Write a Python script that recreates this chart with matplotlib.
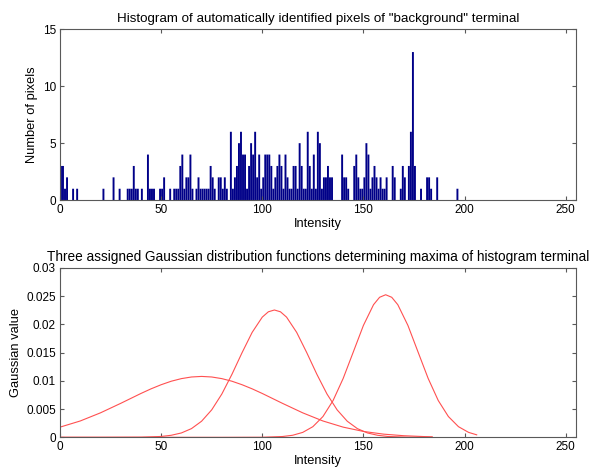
import matplotlib
matplotlib.use("Agg")
import matplotlib.pyplot as plt

plt.rcParams["font.family"] = ["Liberation Sans", "DejaVu Sans"]

# histogram: intensity bins that have pixels, and their counts
bins = [0, 1, 2, 3, 6, 8, 21, 26, 29, 33, 34, 35, 36, 37, 38, 40, 43, 44, 45, 46,
        49, 50, 51, 54, 56, 57, 58, 59, 60, 61, 62, 63, 64, 65, 67, 68, 69, 70, 71, 72,
        73, 74, 75, 76, 78, 79, 80, 81, 82, 84, 85, 86, 87, 88, 89, 90, 91, 92, 93, 94,
        95, 96, 97, 98, 99, 100, 101, 102, 103, 104, 105, 106, 107, 108, 109, 110, 111, 112, 113, 114,
        115, 116, 117, 118, 119, 120, 121, 122, 123, 124, 125, 126, 127, 128, 129, 130, 131, 132, 133, 134,
        139, 140, 141, 142, 145, 146, 147, 148, 149, 150, 151, 152, 153, 154, 155, 156, 157, 158, 159, 160,
        161, 164, 165, 168, 169, 170, 172, 173, 174, 175, 178, 181, 182, 183, 186, 196]
counts = [3, 3, 1, 2, 1, 1, 1, 2, 1, 1, 1, 1, 3, 1, 1, 1, 4, 1, 1, 1,
          1, 1, 2, 1, 1, 1, 1, 3, 4, 1, 2, 2, 4, 1, 1, 2, 1, 1, 1, 1,
          1, 3, 2, 1, 2, 2, 1, 2, 1, 6, 1, 2, 3, 5, 6, 4, 4, 1, 3, 5,
          4, 6, 2, 4, 1, 2, 4, 4, 4, 3, 1, 2, 3, 4, 3, 1, 4, 2, 1, 1,
          3, 3, 1, 5, 3, 1, 1, 6, 3, 1, 4, 1, 6, 5, 1, 2, 2, 3, 2, 2,
          4, 2, 2, 1, 3, 4, 2, 1, 1, 2, 5, 4, 1, 2, 3, 2, 1, 2, 1, 1,
          2, 3, 2, 1, 3, 2, 3, 6, 13, 3, 1, 2, 2, 1, 2, 1]

# gaussian curves, values
g1_x = [0, 10, 20, 30, 40, 45, 50, 55, 60, 65, 70, 75, 80, 85, 90, 95, 100, 110, 120, 130,
        140, 150, 160, 170, 180, 184]
g1_y = [0.00180, 0.00289, 0.00433, 0.00601, 0.00776, 0.00858, 0.00931, 0.00993, 0.01039, 0.01068,
        0.01078, 0.01068, 0.01039, 0.00993, 0.00931, 0.00858, 0.00776, 0.00601, 0.00433, 0.00289,
        0.00180, 0.00104, 0.00056, 0.00028, 0.00013, 0.00009]

g2_x = [0, 20, 40, 50, 55, 60, 65, 70, 75, 80, 85, 90, 95, 100, 103, 106, 109, 112, 117, 122,
        127, 132, 137, 142, 147, 152, 157, 162, 172, 184]
g2_y = [0, 0, 0.00002, 0.00015, 0.00036, 0.00077, 0.00154, 0.00285, 0.00486, 0.00766,
        0.01115, 0.01498, 0.01858, 0.02128, 0.02222, 0.02254, 0.02222, 0.02128, 0.01858, 0.01498,
        0.01115, 0.00766, 0.00486, 0.00285, 0.00154, 0.00077, 0.00036, 0.00015, 0.00002, 0]

g3_x = [0, 80, 100, 110, 115, 120, 125, 130, 135, 140, 145, 150, 155, 158, 161, 164, 167, 172, 177, 182,
        187, 192, 197, 202, 206]
g3_y = [0, 0, 0.000015, 0.00014, 0.00036, 0.00087, 0.00188, 0.00368, 0.00651, 0.01043,
        0.01511, 0.01981, 0.02348, 0.02479, 0.02524, 0.02479, 0.02348, 0.01981, 0.01511, 0.01043,
        0.00651, 0.00368, 0.00188, 0.00087, 0.00044]

fig = plt.figure(figsize=(5.97, 4.72), dpi=100)
ax1 = fig.add_axes([0.1005, 0.576, 0.864, 0.362])
ax2 = fig.add_axes([0.1005, 0.0735, 0.864, 0.359])

ax1.bar(bins, counts, width=0.95, align="edge", color="#000088", edgecolor="none", snap=False)
ax1.set_xlim(0, 255)
ax1.set_ylim(0, 15)
ax1.set_yticks([0, 5, 10, 15])
ax1.set_xticks([0, 50, 100, 150, 200, 250])
ax1.set_title('Histogram of automatically identified pixels of "background" terminal',
              fontsize=9.6, pad=5)
ax1.set_xlabel("Intensity", fontsize=9.3, labelpad=1)
ax1.set_ylabel("Number of pixels", fontsize=9.3, labelpad=3)

red = "#ff5050"
ax2.plot(g1_x, g1_y, color=red, lw=0.8)
ax2.plot(g2_x, g2_y, color=red, lw=0.8)
ax2.plot(g3_x, g3_y, color=red, lw=0.8)
ax2.set_xlim(0, 255)
ax2.set_ylim(0, 0.03)
ax2.set_xticks([0, 50, 100, 150, 200, 250])
ax2.set_yticks([0, 0.005, 0.01, 0.015, 0.02, 0.025, 0.03])
ax2.set_yticklabels(["0", "0.005", "0.01", "0.015", "0.02", "0.025", "0.03"])
ax2.set_title("Three assigned Gaussian distribution functions determining maxima of histogram terminal",
              fontsize=9.8, pad=5)
ax2.set_xlabel("Intensity", fontsize=9.3, labelpad=1)
ax2.set_ylabel("Gaussian value", fontsize=9.3, labelpad=3)

for ax in (ax1, ax2):
    ax.tick_params(direction="in", top=True, right=True, labelsize=8.5, length=3,
                   color="0.35", pad=3)
    for s in ax.spines.values():
        s.set_color("0.35")
        s.set_linewidth(0.8)

fig.savefig("out.png", dpi=100)
